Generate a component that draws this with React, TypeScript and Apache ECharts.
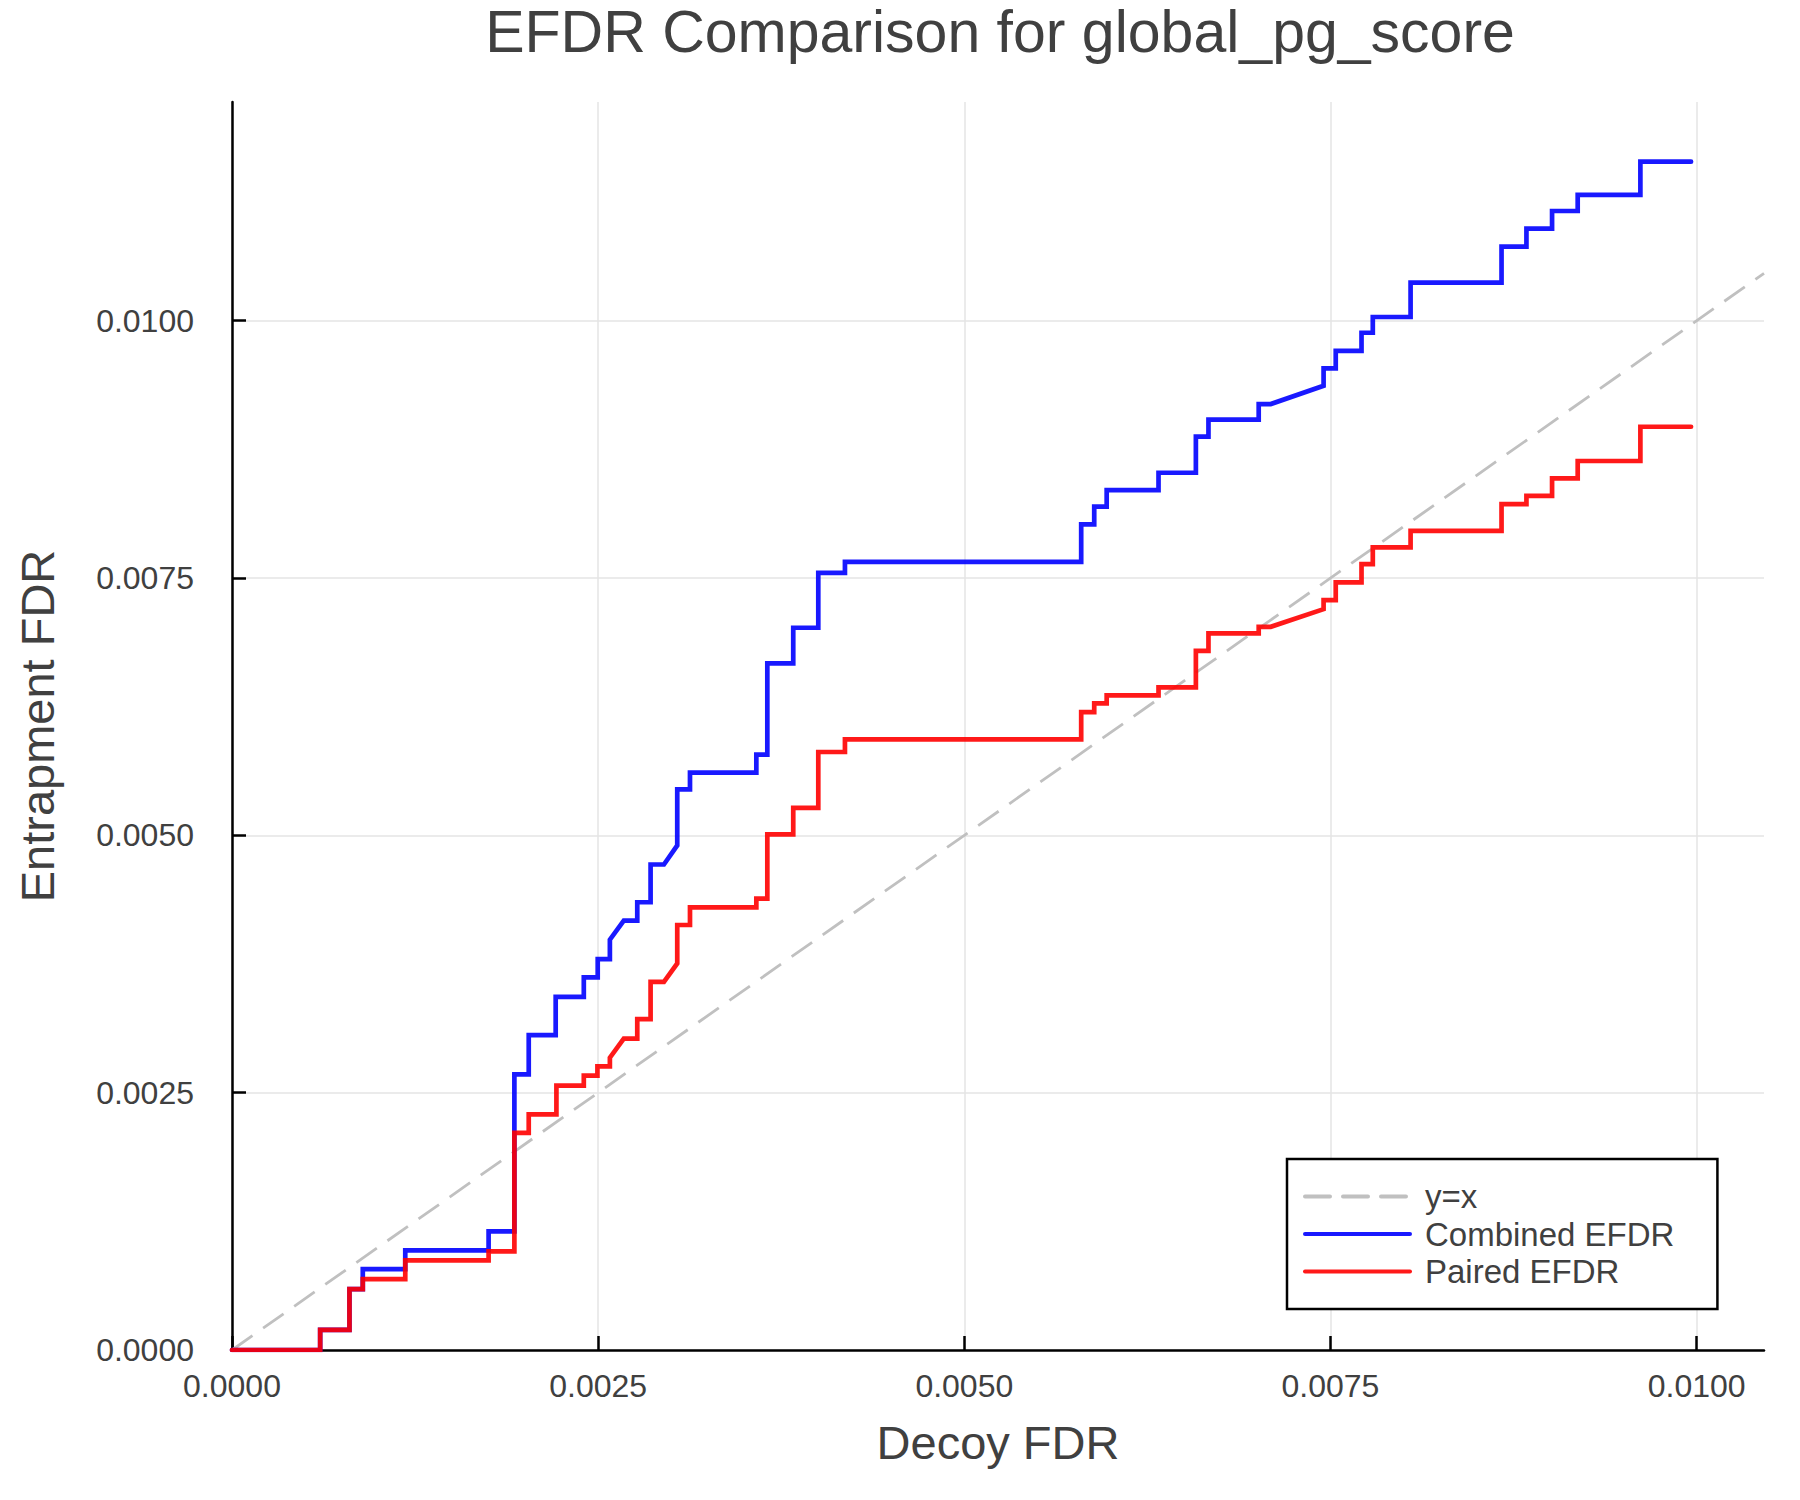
import React, { useEffect, useRef } from "react";
import * as echarts from "echarts";

const titleText = "EFDR Comparison for global_pg_score";
const xAxisName = "Decoy FDR";
const yAxisName = "Entrapment FDR";
const seriesNames = ["y=x", "Combined EFDR", "Paired EFDR"];

const xMax = 0.01046;
const yMax = 0.012125;
const tickValues = [0, 0.0025, 0.005, 0.0075, 0.01];

const identityX = [0, 0.01046];
const identityY = [0, 0.01046];

const combinedX = [
  0, 0.000602, 0.000602, 0.000802, 0.000802, 0.000893, 0.000893, 0.001183, 0.001183,
  0.001752, 0.001752, 0.001928, 0.001928, 0.002026, 0.002026, 0.00221, 0.00221,
  0.002402, 0.002402, 0.002497, 0.002497, 0.00258, 0.00258, 0.002675, 0.002767,
  0.002767, 0.002858, 0.002858, 0.002949, 0.00304, 0.00304, 0.003127, 0.003127,
  0.00358, 0.00358, 0.003655, 0.003655, 0.003832, 0.003832, 0.004003, 0.004003,
  0.004185, 0.004185, 0.005798, 0.005798, 0.005887, 0.005887, 0.005972, 0.005972,
  0.006326, 0.006326, 0.006581, 0.006581, 0.006667, 0.006667, 0.00701, 0.00701,
  0.007092, 0.007453, 0.007453, 0.007536, 0.007536, 0.007712, 0.007712, 0.007789,
  0.007789, 0.008047, 0.008047, 0.008668, 0.008668, 0.008838, 0.008838, 0.009013,
  0.009013, 0.009188, 0.009188, 0.009616, 0.009616, 0.009962,
];
const combinedY = [
  0, 0, 0.000195, 0.000195, 0.000591, 0.000591, 0.000786, 0.000786, 0.000967,
  0.000967, 0.001152, 0.001152, 0.002678, 0.002678, 0.00306, 0.00306, 0.003431,
  0.003431, 0.00362, 0.00362, 0.003798, 0.003798, 0.003986, 0.004171, 0.004171,
  0.00435, 0.00435, 0.004717, 0.004717, 0.004902, 0.005447, 0.005447, 0.00561,
  0.00561, 0.005785, 0.005785, 0.006671, 0.006671, 0.007017, 0.007017, 0.007551,
  0.007551, 0.007658, 0.007658, 0.008022, 0.008022, 0.008193, 0.008193, 0.008355,
  0.008355, 0.008523, 0.008523, 0.008873, 0.008873, 0.00904, 0.00904, 0.00919,
  0.00919, 0.009368, 0.009537, 0.009537, 0.009708, 0.009708, 0.009883, 0.009883,
  0.010036, 0.010036, 0.010371, 0.010371, 0.010719, 0.010719, 0.010894, 0.010894,
  0.011066, 0.011066, 0.011222, 0.011222, 0.011545, 0.011545,
];

const pairedX = [
  0, 0.000602, 0.000602, 0.000802, 0.000802, 0.000893, 0.000893, 0.001183, 0.001183,
  0.001752, 0.001752, 0.001928, 0.001928, 0.002026, 0.002026, 0.002215, 0.002215,
  0.002402, 0.002402, 0.002495, 0.002495, 0.00258, 0.00258, 0.002675, 0.002767,
  0.002767, 0.002858, 0.002858, 0.002949, 0.00304, 0.00304, 0.003127, 0.003127,
  0.00358, 0.00358, 0.003655, 0.003655, 0.003832, 0.003832, 0.004003, 0.004003,
  0.004185, 0.004185, 0.005798, 0.005798, 0.005887, 0.005887, 0.005972, 0.005972,
  0.006326, 0.006326, 0.006581, 0.006581, 0.006667, 0.006667, 0.00701, 0.00701,
  0.007092, 0.007453, 0.007453, 0.007536, 0.007536, 0.007712, 0.007712, 0.007789,
  0.007789, 0.008047, 0.008047, 0.008668, 0.008668, 0.008838, 0.008838, 0.009013,
  0.009013, 0.009188, 0.009188, 0.009616, 0.009616, 0.009962,
];
const pairedY = [
  0, 0, 0.000195, 0.000195, 0.000591, 0.000591, 0.000688, 0.000688, 0.00087,
  0.00087, 0.000958, 0.000958, 0.00211, 0.00211, 0.002289, 0.002289, 0.002568,
  0.002568, 0.002665, 0.002665, 0.002755, 0.002755, 0.00284, 0.003026, 0.003026,
  0.003214, 0.003214, 0.003577, 0.003577, 0.003756, 0.004129, 0.004129, 0.0043,
  0.0043, 0.004385, 0.004385, 0.00501, 0.00501, 0.005268, 0.005268, 0.00581,
  0.00581, 0.005933, 0.005933, 0.006197, 0.006197, 0.006282, 0.006282, 0.00636,
  0.00636, 0.006437, 0.006437, 0.006793, 0.006793, 0.006962, 0.006962, 0.007026,
  0.007026, 0.007198, 0.007286, 0.007286, 0.007458, 0.007458, 0.007636, 0.007636,
  0.007797, 0.007797, 0.007958, 0.007958, 0.008219, 0.008219, 0.008299, 0.008299,
  0.008469, 0.008469, 0.008637, 0.008637, 0.00897, 0.00897,
];

const zip = (xs: number[], ys: number[]) => xs.map((x, i) => [x, ys[i]]);

const FONT = "Liberation Sans";
const TEXT = "#404040";

export default function App() {
  const ref = useRef<HTMLDivElement>(null);
  useEffect(() => {
    if (!ref.current) return;
    const chart = echarts.init(ref.current, undefined, { renderer: "svg" });
    const gridColors = ["#e4e4e4", "#e4e4e4", "#e4e4e4", "#e4e4e4", "#e4e4e4", "rgba(0,0,0,0)"];
    chart.setOption({
      animation: false,
      backgroundColor: "#ffffff",
      textStyle: { fontFamily: FONT },
      graphic: [
        {
          type: "text",
          x: 1000,
          y: 32,
          style: {
            text: titleText,
            fontFamily: FONT,
            fontSize: 59,
            fill: TEXT,
            align: "center",
            verticalAlign: "middle",
          },
        },
      ],
      grid: { left: 232, right: 36, top: 102, bottom: 150, containLabel: false },
      legend: {
        orient: "vertical",
        left: 1287,
        top: 1159,
        data: seriesNames,
        backgroundColor: "#ffffff",
        borderColor: "#000000",
        borderWidth: 2.5,
        borderRadius: 0,
        padding: [21, 43, 21, 16],
        itemWidth: 105,
        itemHeight: 12,
        itemGap: 4.5,
        itemStyle: { opacity: 0 },
        lineStyle: { width: 4, cap: "round" },
        textStyle: {
          fontFamily: FONT,
          fontSize: 33,
          color: TEXT,
          padding: [0, 0, 0, 10],
        },
      },
      xAxis: {
        type: "value",
        min: 0,
        max: xMax,
        name: xAxisName,
        nameLocation: "middle",
        nameGap: 69,
        nameTextStyle: { fontFamily: FONT, fontSize: 47, color: TEXT },
        axisLine: { show: true, onZero: false, lineStyle: { color: "#000", width: 2.5 } },
        axisTick: {
          show: true,
          inside: true,
          length: 14,
          customValues: tickValues,
          lineStyle: { color: "#000", width: 2.5 },
        },
        axisLabel: {
          customValues: tickValues,
          margin: 20,
          fontFamily: FONT,
          fontSize: 32,
          color: TEXT,
          formatter: (v: number) => v.toFixed(4),
        },
        splitLine: { show: true, lineStyle: { color: gridColors, width: 1.5 } },
      },
      yAxis: {
        type: "value",
        min: 0,
        max: yMax,
        name: yAxisName,
        nameLocation: "middle",
        nameGap: 171,
        nameRotate: 90,
        nameTextStyle: { fontFamily: FONT, fontSize: 47, color: TEXT },
        axisLine: { show: true, onZero: false, lineStyle: { color: "#000", width: 2.5 } },
        axisTick: {
          show: true,
          inside: true,
          length: 14,
          customValues: tickValues,
          lineStyle: { color: "#000", width: 2.5 },
        },
        axisLabel: {
          customValues: tickValues,
          margin: 38,
          fontFamily: FONT,
          fontSize: 32,
          color: TEXT,
          formatter: (v: number) => v.toFixed(4),
        },
        splitLine: { show: true, lineStyle: { color: gridColors, width: 1.5 } },
      },
      series: [
        {
          name: seriesNames[0],
          type: "line",
          data: zip(identityX, identityY),
          showSymbol: false,
          symbol: "none",
          color: "#c0c0c0",
          lineStyle: { color: "#c0c0c0", width: 2.8, type: [25, 13] },
          z: 2,
        },
        {
          name: seriesNames[1],
          type: "line",
          data: zip(combinedX, combinedY),
          showSymbol: false,
          symbol: "none",
          color: "rgba(0,0,255,0.9)",
          lineStyle: { color: "rgba(0,0,255,0.9)", width: 4.7, cap: "round", join: "miter" },
          z: 3,
        },
        {
          name: seriesNames[2],
          type: "line",
          data: zip(pairedX, pairedY),
          showSymbol: false,
          symbol: "none",
          color: "rgba(255,0,0,0.9)",
          lineStyle: { color: "rgba(255,0,0,0.9)", width: 4.7, cap: "round", join: "miter" },
          z: 4,
        },
      ],
    });
    return () => chart.dispose();
  }, []);
  return (
    <div
      ref={ref}
      style={{ position: "absolute", left: 0, top: 0, width: 1800, height: 1500 }}
    />
  );
}
